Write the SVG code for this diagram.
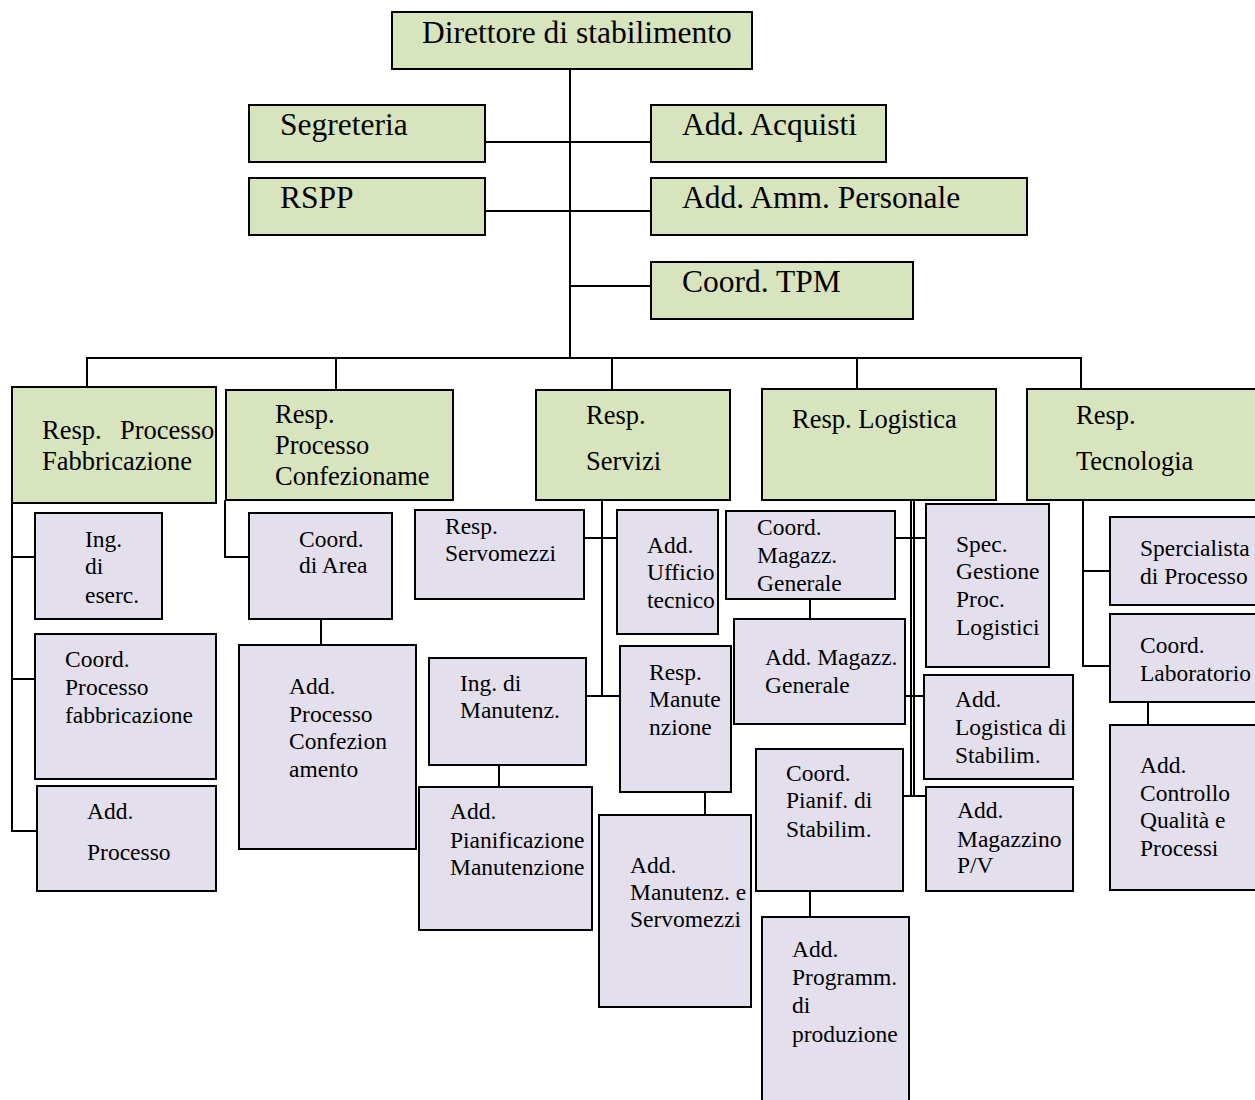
<svg xmlns="http://www.w3.org/2000/svg" width="1255" height="1100" viewBox="0 0 1255 1100">
<style>
.g{fill:#d7e4bd;stroke:#000;stroke-width:2}
.p{fill:#e4dfec;stroke:#000;stroke-width:2}
text{font-family:"Liberation Serif","Times New Roman",serif;fill:#000}
.t1{font-size:31.5px}
.t2{font-size:26.5px}
.t3{font-size:23.5px}
#connectors line,#connectors polyline{stroke:#000;stroke-width:2;fill:none}
</style>
<rect width="1255" height="1100" fill="#fff"/>
<g id="connectors">
<line x1="570" y1="69" x2="570" y2="359"/>
<line x1="485" y1="142" x2="651" y2="142"/>
<line x1="485" y1="211" x2="651" y2="211"/>
<line x1="570" y1="286" x2="651" y2="286"/>
<line x1="86" y1="358" x2="1082" y2="358"/>
<line x1="87" y1="358" x2="87" y2="387"/>
<line x1="336" y1="358" x2="336" y2="390"/>
<line x1="612" y1="358" x2="612" y2="390"/>
<line x1="857" y1="358" x2="857" y2="389"/>
<line x1="1081" y1="358" x2="1081" y2="389"/>
<polyline points="12,503 12,831 37,831"/>
<line x1="12" y1="557" x2="35" y2="557"/>
<line x1="12" y1="679" x2="35" y2="679"/>
<polyline points="225,500 225,557 249,557"/>
<line x1="321" y1="619" x2="321" y2="645"/>
<line x1="602" y1="500" x2="602" y2="697"/>
<line x1="584" y1="538" x2="617" y2="538"/>
<line x1="586" y1="696" x2="620" y2="696"/>
<line x1="499" y1="765" x2="499" y2="787"/>
<line x1="705" y1="792" x2="705" y2="815"/>
<line x1="911" y1="500" x2="911" y2="797"/>
<line x1="914" y1="500" x2="914" y2="797"/>
<line x1="895" y1="538" x2="926" y2="538"/>
<line x1="905" y1="696" x2="924" y2="696"/>
<line x1="903" y1="796" x2="927" y2="796"/>
<line x1="810" y1="599" x2="810" y2="619"/>
<line x1="810" y1="891" x2="810" y2="917"/>
<polyline points="1083,500 1083,666 1110,666"/>
<line x1="1083" y1="571" x2="1110" y2="571"/>
<line x1="1148" y1="702" x2="1148" y2="725"/>
</g>
<g id="n-direttore"><rect class="g" x="392" y="12" width="360" height="57"/><text class="t1" x="422" y="43">Direttore di stabilimento</text></g>
<g id="n-segreteria"><rect class="g" x="249" y="105" width="236" height="57"/><text class="t1" x="280" y="135">Segreteria</text></g>
<g id="n-acquisti"><rect class="g" x="651" y="105" width="235" height="57"/><text class="t1" x="682" y="135">Add. Acquisti</text></g>
<g id="n-rspp"><rect class="g" x="249" y="178" width="236" height="57"/><text class="t1" x="280" y="208">RSPP</text></g>
<g id="n-personale"><rect class="g" x="651" y="178" width="376" height="57"/><text class="t1" x="682" y="208">Add. Amm. Personale</text></g>
<g id="n-tpm"><rect class="g" x="651" y="262" width="262" height="57"/><text class="t1" x="682" y="292">Coord. TPM</text></g>

<g id="n-fabbricazione"><rect class="g" x="12" y="387" width="204" height="116"/><text class="t2"><tspan x="42" y="439">Resp.</tspan><tspan x="120" y="439">Processo</tspan><tspan x="42" y="470">Fabbricazione</tspan></text></g>
<g id="n-confezionamento"><rect class="g" x="226" y="390" width="227" height="110"/><text class="t2"><tspan x="275" y="423">Resp.</tspan><tspan x="275" y="454">Processo</tspan><tspan x="275" y="485">Confezioname</tspan></text></g>
<g id="n-servizi"><rect class="g" x="536" y="390" width="194" height="110"/><text class="t2"><tspan x="586" y="424">Resp.</tspan><tspan x="586" y="470">Servizi</tspan></text></g>
<g id="n-logistica"><rect class="g" x="762" y="389" width="234" height="111"/><text class="t2" x="792" y="428">Resp. Logistica</text></g>
<g id="n-tecnologia"><rect class="g" x="1027" y="389" width="240" height="111"/><text class="t2"><tspan x="1076" y="424">Resp.</tspan><tspan x="1076" y="470">Tecnologia</tspan></text></g>

<g id="n-ing-eserc"><rect class="p" x="35" y="513" width="127" height="106"/><text class="t3"><tspan x="85" y="547">Ing.</tspan><tspan x="85" y="574">di</tspan><tspan x="85" y="603">eserc.</tspan></text></g>
<g id="n-coord-fabbr"><rect class="p" x="35" y="634" width="181" height="145"/><text class="t3"><tspan x="65" y="667">Coord.</tspan><tspan x="65" y="695">Processo</tspan><tspan x="65" y="723">fabbricazione</tspan></text></g>
<g id="n-add-processo"><rect class="p" x="37" y="786" width="179" height="105"/><text class="t3"><tspan x="87" y="819">Add.</tspan><tspan x="87" y="860">Processo</tspan></text></g>

<g id="n-coord-area"><rect class="p" x="249" y="513" width="143" height="106"/><text class="t3"><tspan x="299" y="547">Coord.</tspan><tspan x="299" y="573">di Area</tspan></text></g>
<g id="n-add-confez"><rect class="p" x="239" y="645" width="177" height="204"/><text class="t3"><tspan x="289" y="694">Add.</tspan><tspan x="289" y="722">Processo</tspan><tspan x="289" y="749">Confezion</tspan><tspan x="289" y="777">amento</tspan></text></g>

<g id="n-servomezzi"><rect class="p" x="415" y="510" width="169" height="89"/><text class="t3"><tspan x="445" y="534">Resp.</tspan><tspan x="445" y="561">Servomezzi</tspan></text></g>
<g id="n-ufficio"><rect class="p" x="617" y="510" width="101" height="124"/><text class="t3"><tspan x="647" y="553">Add.</tspan><tspan x="647" y="580">Ufficio</tspan><tspan x="647" y="608">tecnico</tspan></text></g>
<g id="n-ing-manut"><rect class="p" x="429" y="658" width="157" height="107"/><text class="t3"><tspan x="460" y="691">Ing. di</tspan><tspan x="460" y="718">Manutenz.</tspan></text></g>
<g id="n-pianif-manut"><rect class="p" x="419" y="787" width="173" height="143"/><text class="t3"><tspan x="450" y="819">Add.</tspan><tspan x="450" y="848">Pianificazione</tspan><tspan x="450" y="875">Manutenzione</tspan></text></g>
<g id="n-resp-manut"><rect class="p" x="620" y="646" width="111" height="146"/><text class="t3"><tspan x="649" y="680">Resp.</tspan><tspan x="649" y="707">Manute</tspan><tspan x="649" y="735">nzione</tspan></text></g>
<g id="n-add-manut"><rect class="p" x="599" y="815" width="152" height="192"/><text class="t3"><tspan x="630" y="873">Add.</tspan><tspan x="630" y="900">Manutenz. e</tspan><tspan x="630" y="927">Servomezzi</tspan></text></g>

<g id="n-coord-magazz"><rect class="p" x="726" y="511" width="169" height="88"/><text class="t3"><tspan x="757" y="535">Coord.</tspan><tspan x="757" y="563">Magazz.</tspan><tspan x="757" y="591">Generale</tspan></text></g>
<g id="n-add-magazz"><rect class="p" x="734" y="619" width="171" height="105"/><text class="t3"><tspan x="765" y="665">Add. Magazz.</tspan><tspan x="765" y="693">Generale</tspan></text></g>
<g id="n-spec-gestione"><rect class="p" x="926" y="504" width="123" height="163"/><text class="t3"><tspan x="956" y="552">Spec.</tspan><tspan x="956" y="579">Gestione</tspan><tspan x="956" y="607">Proc.</tspan><tspan x="956" y="635">Logistici</tspan></text></g>
<g id="n-add-logistica"><rect class="p" x="924" y="675" width="149" height="104"/><text class="t3"><tspan x="955" y="707">Add.</tspan><tspan x="955" y="735">Logistica di</tspan><tspan x="955" y="763">Stabilim.</tspan></text></g>
<g id="n-coord-pianif"><rect class="p" x="756" y="749" width="147" height="142"/><text class="t3"><tspan x="786" y="781">Coord.</tspan><tspan x="786" y="808">Pianif. di</tspan><tspan x="786" y="837">Stabilim.</tspan></text></g>
<g id="n-add-magazzino-pv"><rect class="p" x="926" y="787" width="147" height="104"/><text class="t3"><tspan x="957" y="818">Add.</tspan><tspan x="957" y="847">Magazzino</tspan><tspan x="957" y="873">P/V</tspan></text></g>
<g id="n-add-programm"><rect class="p" x="762" y="917" width="147" height="195"/><text class="t3"><tspan x="792" y="957">Add.</tspan><tspan x="792" y="985">Programm.</tspan><tspan x="792" y="1013">di</tspan><tspan x="792" y="1042">produzione</tspan></text></g>

<g id="n-specialista"><rect class="p" x="1110" y="517" width="157" height="88"/><text class="t3"><tspan x="1140" y="556">Spercialista</tspan><tspan x="1140" y="584">di Processo</tspan></text></g>
<g id="n-coord-lab"><rect class="p" x="1110" y="614" width="157" height="88"/><text class="t3"><tspan x="1140" y="653">Coord.</tspan><tspan x="1140" y="681">Laboratorio</tspan></text></g>
<g id="n-add-controllo"><rect class="p" x="1110" y="725" width="157" height="165"/><text class="t3"><tspan x="1140" y="773">Add.</tspan><tspan x="1140" y="801">Controllo</tspan><tspan x="1140" y="828">Qualità e</tspan><tspan x="1140" y="856">Processi</tspan></text></g>
</svg>
